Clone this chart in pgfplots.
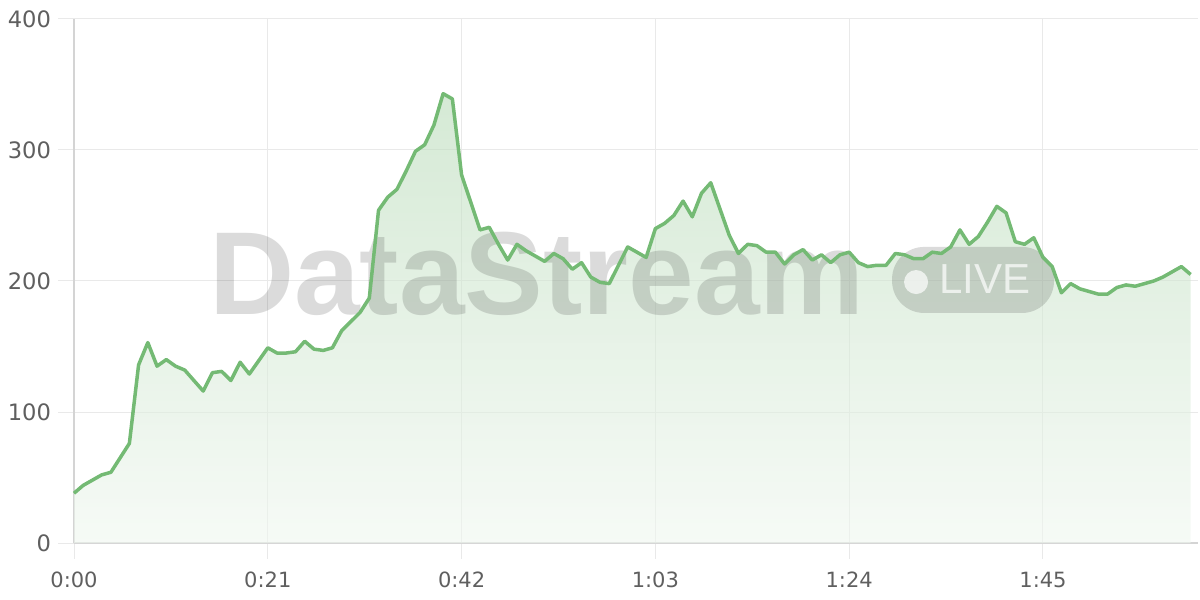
\documentclass[border=0pt]{standalone}
\usepackage{fontspec}
\setmainfont{DejaVu Sans}
\newfontfamily\wmfont{Liberation Sans}
\usepackage{pgfplots}
\pgfplotsset{compat=1.18}
\usepackage{pgfplotstable}
\definecolor{linegreen}{RGB}{116,186,116}
\definecolor{filltop}{RGB}{185,219,185}
\definecolor{fillbot}{RGB}{240,247,240}
\definecolor{gridc}{RGB}{233,233,233}
\definecolor{axisc}{RGB}{212,212,212}
\definecolor{labc}{RGB}{95,95,95}
\pgfplotstableread{
x y
0 38
1 44
2 48
3 52
4 54
5 65
6 76
7 136
8 153
9 135
10 140
11 135
12 132
13 124
14 116
15 130
16 131
17 124
18 138
19 129
20 139
21 149
22 145
23 145
24 146
25 154
26 148
27 147
28 149
29 162
30 169
31 176
32 187
33 254
34 264
35 270
36 284
37 299
38 304
39 319
40 343
41 339
42 281
43 260
44 239
45 241
46 228
47 216
48 228
49 223
50 219
51 215
52 221
53 217
54 209
55 214
56 203
57 199
58 198
59 212
60 226
61 222
62 218
63 240
64 244
65 250
66 261
67 249
68 267
69 275
70 255
71 235
72 221
73 228
74 227
75 222
76 222
77 213
78 220
79 224
80 216
81 220
82 214
83 220
84 222
85 214
86 211
87 212
88 212
89 221
90 220
91 217
92 217
93 222
94 221
95 226
96 239
97 228
98 234
99 245
100 257
101 252
102 230
103 228
104 233
105 218
106 211
107 191
108 198
109 194
110 192
111 190
112 190
113 195
114 197
115 196
116 198
117 200
118 203
119 207
120 211
121 205
}\datatable
\begin{document}
\begin{tikzpicture}
\useasboundingbox (0,0) rectangle (600pt,300pt);
\begin{axis}[
  at={(37pt,28.5pt)}, anchor=south west,
  scale only axis, width=562pt, height=262pt,
  xmin=0, xmax=121.8, ymin=0, ymax=400,
  axis x line=bottom, axis y line=left,
  axis line style={draw=axisc, line width=0.8pt, -},
  xtick={0,21,42,63,84,105},
  xticklabels={0:00,0:21,0:42,1:03,1:24,1:45},
  ytick={0,100,200,300,400},
  grid=major,
  major grid style={draw=gridc, line width=0.5pt},
  tick align=outside,
  major tick length=8pt,
  tick style={draw=gridc, line width=0.5pt},
  ticklabel style={text=labc},
  /pgf/number format/assume math mode=true,
  yticklabel style={font=\fontsize{11.3}{13}\selectfont},
  xticklabel style={font=\fontsize{10.5}{12}\selectfont, yshift=-3pt},
  clip=false,
]
\addplot[draw=none, top color=filltop, bottom color=fillbot, fill opacity=0.6] table[x=x,y=y] {\datatable} \closedcycle;
\node[anchor=base west, inner sep=0pt, text=black, opacity=0.14, font=\wmfont\bfseries\fontsize{59}{60}\selectfont] at (axis cs:14.6,174.8) {DataStream};
\fill[black, opacity=0.14, rounded corners=16pt] (axis cs:88.65,175.6) rectangle (axis cs:106.2,226);
\fill[white, opacity=0.7] (axis cs:91.25,199.2) circle[radius=6pt];
\node[anchor=base west, inner sep=0pt, text=white, opacity=0.7, font=\wmfont\fontsize{21}{24}\selectfont] at (axis cs:93.74,190.8) {LIVE};
\addplot[draw=linegreen, line width=1.75pt, line join=round, mark=none] table[x=x,y=y] {\datatable};
\end{axis}
\end{tikzpicture}
\end{document}
